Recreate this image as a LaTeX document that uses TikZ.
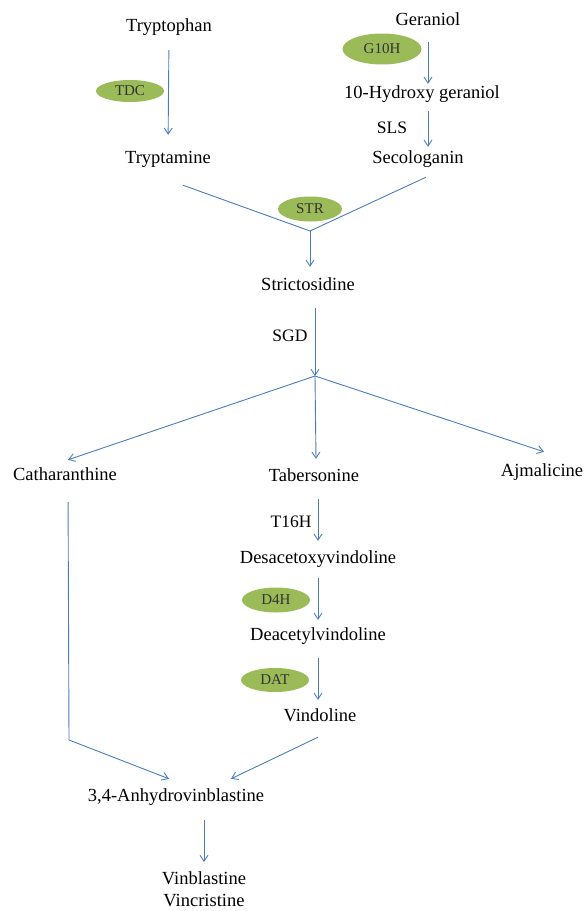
\documentclass[tikz,border=0pt]{standalone}
\usepackage{fontspec}
\setmainfont{Liberation Serif}
\usetikzlibrary{shapes.geometric,arrows.meta,positioning}
\definecolor{pathblue}{RGB}{74,126,187}
\definecolor{enzgreen}{RGB}{155,187,89}

\begin{document}
\begin{tikzpicture}[x=1pt, y=-1pt,
  chem/.style = {inner sep = 0pt, font = \fontsize{18.5}{23}\selectfont, text height = 13pt, text depth = 4pt},
  chemtwo/.style = {inner sep = 0pt, font = \fontsize{18.5}{22}\selectfont, align = center},
  enzyme/.style = {shape = ellipse, fill = enzgreen, inner sep = 0pt, font = \fontsize{15}{18}\selectfont, text = black!80},
  enzlabel/.style = {inner sep = 0pt, font = \fontsize{17.5}{21}\selectfont},
  flow/.style = {draw = pathblue, line width = 0.9pt},
  arr/.style = {flow, -{Straight Barb[length=6pt, width=8pt]}}]
\useasboundingbox (0,0) rectangle (588,911);

\node[chem] (tryptophan) at (169,27) {Tryptophan};
\node[chem] (tryptamine) at (168,159) {Tryptamine};
\node[chem] (geraniol) at (428,21) {Geraniol};
\node[chem] (hydroxy) at (422,94) {10-Hydroxy geraniol};
\node[chem] (secologanin) at (418,159) {Secologanin};
\node[chem] (strictosidine) at (308,286) {Strictosidine};
\node[chem] (catharanthine) at (65,476) {Catharanthine};
\node[chem] (tabersonine) at (314,477) {Tabersonine};
\node[chem] (ajmalicine) at (542,472) {Ajmalicine};
\node[chem] (desacetoxy) at (318,559) {Desacetoxyvindoline};
\node[chem] (deacetyl) at (318,636) {Deacetylvindoline};
\node[chem] (vindoline) at (320,717) {Vindoline};
\node[chem] (anhydro) at (176,797) {3,4-Anhydrovinblastine};
\node[chemtwo, anchor = north] (vinca) at (204,871) {Vinblastine\\Vincristine};

\node[enzyme, minimum width = 68pt, minimum height = 22pt] (tdc) at (130,91) {TDC};
\node[enzyme, minimum width = 79pt, minimum height = 31pt] (g10h) at (382,49) {G10H};
\node[enzyme, minimum width = 64pt, minimum height = 25pt] (str) at (310,209) {STR};
\node[enzyme, minimum width = 68pt, minimum height = 25pt] (d4h) at (276,600) {D4H};
\node[enzyme, minimum width = 68pt, minimum height = 24pt] (dat) at (275,680) {DAT};

\node[enzlabel] (sls) at (392,128) {SLS};
\node[enzlabel] (sgd) at (290,336) {SGD};
\node[enzlabel] (t16h) at (291,522) {T16H};

\coordinate (join) at (310,231);
\coordinate (split) at (315,376);
\coordinate (bend) at (69,740);

\draw[arr, shorten <= 14.5pt, shorten >= 15.5pt] (tryptophan.south) -- (tryptamine.north);
\draw[arr, shorten <= 12.5pt, shorten >= 1.5pt] (geraniol.south) -- (geraniol.south |- hydroxy.north);
\draw[arr, shorten <= 8.5pt, shorten >= 3.5pt] (geraniol.south |- hydroxy.south) -- (geraniol.south |- secologanin.north);
\draw[flow] ([shift={(15,17.5)}]tryptamine.south) -- (join) -- ([shift={(8,9.5)}]secologanin.south);
\draw[arr, shorten >= 10.5pt] (join) -- (join |- strictosidine.north);
\draw[arr, shorten <= 13.5pt] ([xshift=7pt]strictosidine.south) -- (split);
\draw[arr] (split) -- ([shift={(3,-7.5)}]catharanthine.north);
\draw[arr] (split) -- ([shift={(2,-9.5)}]tabersonine.north);
\draw[arr] (split) -- ([shift={(2,-11.5)}]ajmalicine.north);
\draw[arr, shorten <= 13.5pt, shorten >= 9.5pt] (desacetoxy.north |- tabersonine.south) -- (desacetoxy.north);
\draw[arr, shorten <= 10.5pt, shorten >= 7.5pt] (desacetoxy.south) -- (deacetyl.north);
\draw[arr, shorten <= 13.5pt, shorten >= 8.5pt] (deacetyl.south) -- (deacetyl.south |- vindoline.north);
\draw[arr, shorten <= 17.5pt] ([xshift=3pt]catharanthine.south) -- (bend) -- ([shift={(-7,-9.5)}]anhydro.north);
\draw[arr] ([shift={(-2,11.5)}]vindoline.south) -- ([shift={(55,-9.5)}]anhydro.north);
\draw[arr, shorten <= 14.5pt, shorten >= 9pt] (vinca.north |- anhydro.south) -- (vinca.north);
\end{tikzpicture}
\end{document}
